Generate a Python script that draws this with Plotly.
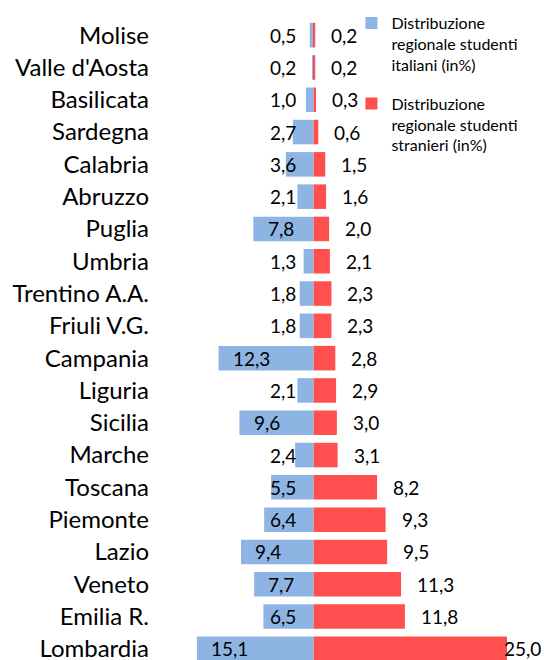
import plotly.graph_objects as go

regions = ["Molise", "Valle d'Aosta", "Basilicata", "Sardegna", "Calabria", "Abruzzo",
           "Puglia", "Umbria", "Trentino A.A.", "Friuli V.G.", "Campania", "Liguria",
           "Sicilia", "Marche", "Toscana", "Piemonte", "Lazio", "Veneto", "Emilia R.",
           "Lombardia"]
italiani = [0.5, 0.2, 1.0, 2.7, 3.6, 2.1, 7.8, 1.3, 1.8, 1.8, 12.3, 2.1, 9.6, 2.4,
            5.5, 6.4, 9.4, 7.7, 6.5, 15.1]
stranieri = [0.2, 0.2, 0.3, 0.6, 1.5, 1.6, 2.0, 2.1, 2.3, 2.3, 2.8, 2.9, 3.0, 3.1,
             8.2, 9.3, 9.5, 11.3, 11.8, 25.0]
legend_names = ["Distribuzione<br>regionale studenti<br>italiani (in%)",
                "Distribuzione<br>regionale studenti<br>stranieri (in%)"]

BLUE = "#8EB4E3"
RED = "#FF4F4F"
GREY = "#8C8C8C"
FONT = "Lato"

W, H = 544, 660
ML, MR, MT, MB = 159, 37, 19, 0
XMIN, XMAX = -20, 25
plot_w = W - ML - MR
ppu = plot_w / (XMAX - XMIN)
LBL = 19


def fmt(v):
    return f"{v:.1f}".replace(".", ",")


def text_w(s):
    return sum(0.27 * LBL if c == "," else 0.58 * LBL for c in s)


def px_to_x(px):
    return (px - ML) / ppu + XMIN


zero_px = ML + (0 - XMIN) * ppu

fig = go.Figure()
fig.add_trace(go.Bar(y=regions, x=[-v for v in italiani], orientation="h",
                     name=legend_names[0], marker=dict(color=BLUE, line=dict(width=0)),
                     width=0.76, hoverinfo="skip", legendgroup="g0"))
fig.add_trace(go.Bar(y=regions, x=stranieri, orientation="h",
                     name=legend_names[1], marker=dict(color=RED, line=dict(width=0)),
                     width=0.76, hoverinfo="skip", legendgroup="g1"))

annotations = []
for r, v in zip(regions, italiani):
    t = fmt(v)
    w = text_w(t)
    right = min(zero_px - v * ppu + 15 + w, zero_px - 16)
    annotations.append(dict(x=px_to_x(right), y=r, xref="x", yref="y", text=t,
                            xanchor="right", showarrow=False,
                            font=dict(family=FONT, size=LBL, color="black")))
for r, v in zip(regions, stranieri):
    t = fmt(v)
    w = text_w(t)
    left = min(zero_px + v * ppu + 14, W - 4 - w)
    annotations.append(dict(x=px_to_x(left), y=r, xref="x", yref="y", text=t,
                            xanchor="left", showarrow=False,
                            font=dict(family=FONT, size=LBL, color="black")))

n = len(regions)
row_h = 32.3
span = (H - MT - MB) / row_h
yrange = [span - 0.5, -0.5]
bounds = [i - 0.5 for i in range(n + 1)]
axis_pos = (0 - XMIN) / (XMAX - XMIN)

fig.update_layout(
    width=W, height=H,
    margin=dict(l=ML, r=MR, t=MT, b=MB, pad=0, autoexpand=False),
    paper_bgcolor="white", plot_bgcolor="white",
    barmode="overlay",
    font=dict(family=FONT, color="black"),
    showlegend=True,
    legend=dict(x=0.553, y=1.02, xanchor="left", yanchor="top",
                font=dict(family=FONT, size=16, color="black"),
                valign="top", tracegroupgap=15, bgcolor="rgba(0,0,0,0)",
                traceorder="grouped", itemwidth=30),
    xaxis=dict(range=[XMIN, XMAX], showgrid=False, zeroline=False, automargin=False,
               showticklabels=False, showline=False, ticks=""),
    yaxis=dict(type="category", categoryorder="array", categoryarray=regions,
               range=yrange, showgrid=False, zeroline=False, showline=False,
               ticks="", ticklabelstandoff=9, automargin=False,
               tickfont=dict(family=FONT, size=24, color="black")),
    yaxis2=dict(type="linear", overlaying="y", anchor="free", position=axis_pos,
                side="left", range=yrange, tickmode="array", tickvals=bounds,
                ticks="outside", ticklen=8, tickwidth=2, tickcolor=GREY,
                showline=True, linewidth=2, linecolor=GREY, automargin=False,
                showticklabels=False, showgrid=False, zeroline=False),
    yaxis3=dict(type="linear", overlaying="y", anchor="free", position=axis_pos,
                side="left", range=yrange, tickmode="array", tickvals=bounds,
                ticks="inside", ticklen=8, tickwidth=2, tickcolor=GREY,
                showline=False, showticklabels=False, showgrid=False,
                zeroline=False, automargin=False),
    annotations=annotations,
)

fig.write_html("out.html", config={"displayModeBar": False},
               post_script="document.body.style.margin='0';document.body.style.overflow='hidden';")
